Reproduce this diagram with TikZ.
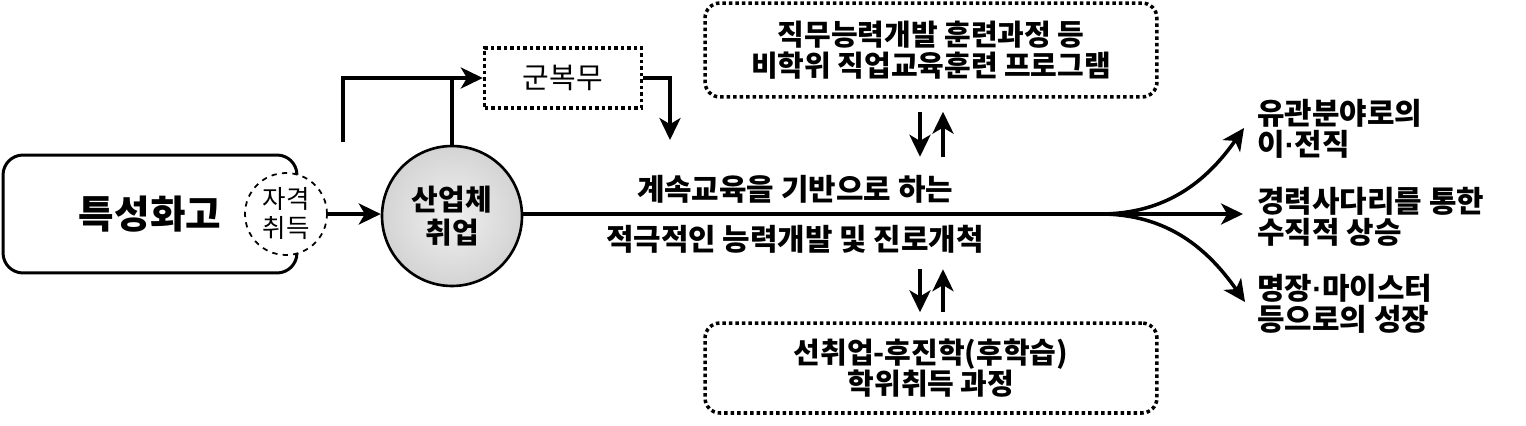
\documentclass[tikz,border=0pt]{standalone}
\usepackage{fontspec}
\setmainfont{Noto Sans CJK KR}
\newfontfamily\dotfont{Liberation Sans}
\newcommand\mdot{{\dotfont\bfseries ·}}
\usetikzlibrary{arrows.meta}

\begin{document}
\begin{tikzpicture}[x=0.02cm,y=-0.02cm,
	line/.style={line width=2pt},
	arr/.style={line width=2pt,-{Stealth[length=12.5pt,width=12pt,inset=3.5pt]}},
	dotbox/.style={draw,line width=2pt,dash pattern=on 2pt off 1.7pt,align=center},
	txt/.style={font=\bfseries\fontsize{16.5}{17.5}\selectfont,align=center},
	outtxt/.style={font=\bfseries\fontsize{17}{17.5}\selectfont,align=left,anchor=west,inner sep=0pt}]
	\useasboundingbox (0,0) rectangle (1526,426);

	% left part
	\node[draw,line width=1.7pt,rounded corners=0.4cm,minimum width=5.88cm,minimum height=2.36cm,
		font=\bfseries\fontsize{22}{24}\selectfont] (school) at (150,214) {특성화고};
	\node[circle,draw,dashed,fill=white,line width=1pt,minimum size=1.64cm,inner sep=0pt,
		align=center,font=\fontsize{14.5}{16.5}\selectfont] (cert) at (286,214) {자격\\취득};
	\node[circle,draw,line width=1.5pt,minimum size=2.8cm,inner sep=0pt,align=center,
		shading=radial,inner color=gray!12,outer color=gray!34,
		font=\bfseries\fontsize{16.5}{19}\selectfont] (firm) at (452,216) {산업체\\취업};
	\draw[arr] (cert) -- (firm.west |- cert);

	% army loop
	\node[dotbox,minimum width=3.14cm,minimum height=1.2cm,font=\fontsize{16.5}{18}\selectfont] (army) at (563,78) {군복무};
	\coordinate (loopin) at (343,142);
	\coordinate (armyout) at (670,140);
	\draw[arr] (loopin) |- (army.west);
	\draw[line] (firm.north) -- (firm.north |- army.west);
	\draw[arr] (army.east) -| (armyout);

	% programs
	\node[dotbox,txt,rounded corners=0.3cm,minimum width=9.04cm,minimum height=1.88cm] (prog) at (931,50)
		{직무능력개발 훈련과정 등\\비학위 직업교육훈련 프로그램};
	\node[dotbox,txt,rounded corners=0.3cm,minimum width=9.04cm,minimum height=1.8cm] (degree) at (931,368)
		{선취업-후진학(후학습)\\학위취득 과정};
	\draw[arr] ([xshift=-0.22cm,yshift=-0.26cm]prog.south) -- ++(0,45);
	\draw[arr] ([xshift=0.24cm,yshift=-1.16cm]prog.south) -- ++(0,-45);
	\draw[arr] ([xshift=-0.22cm,yshift=1.04cm]degree.north) -- ++(0,43);
	\draw[arr] ([xshift=0.24cm,yshift=0.18cm]degree.north) -- ++(0,-43);

	% main line
	\node[txt,font=\bfseries\fontsize{17}{18}\selectfont] (upper) at (795,189) {계속교육을 기반으로 하는};
	\node[txt,font=\bfseries\fontsize{17}{18}\selectfont] (lower) at (795,239) {적극적인 능력개발 및 진로개척};
	\coordinate (fork) at (1100,214);
	\draw[line width=2.4pt] (firm.east |- fork) -- (fork);

	% outcomes
	\node[outtxt] (outa) at (1257,129) {유관분야로의\\이\mdot 전직};
	\node[outtxt] (outb) at (1257,217) {경력사다리를 통한\\수직적 상승};
	\node[outtxt] (outc) at (1257,304) {명장\mdot 마이스터\\등으로의 성장};
	\coordinate (tipa) at (1244,128);
	\coordinate (tipc) at (1245,302);
	\draw[arr] (fork) to[out=0,in=235] (tipa);
	\draw[arr,shorten >=0.28cm] (fork) -- (fork -| outb.west);
	\draw[arr] (fork) to[out=0,in=125] (tipc);
\end{tikzpicture}
\end{document}
